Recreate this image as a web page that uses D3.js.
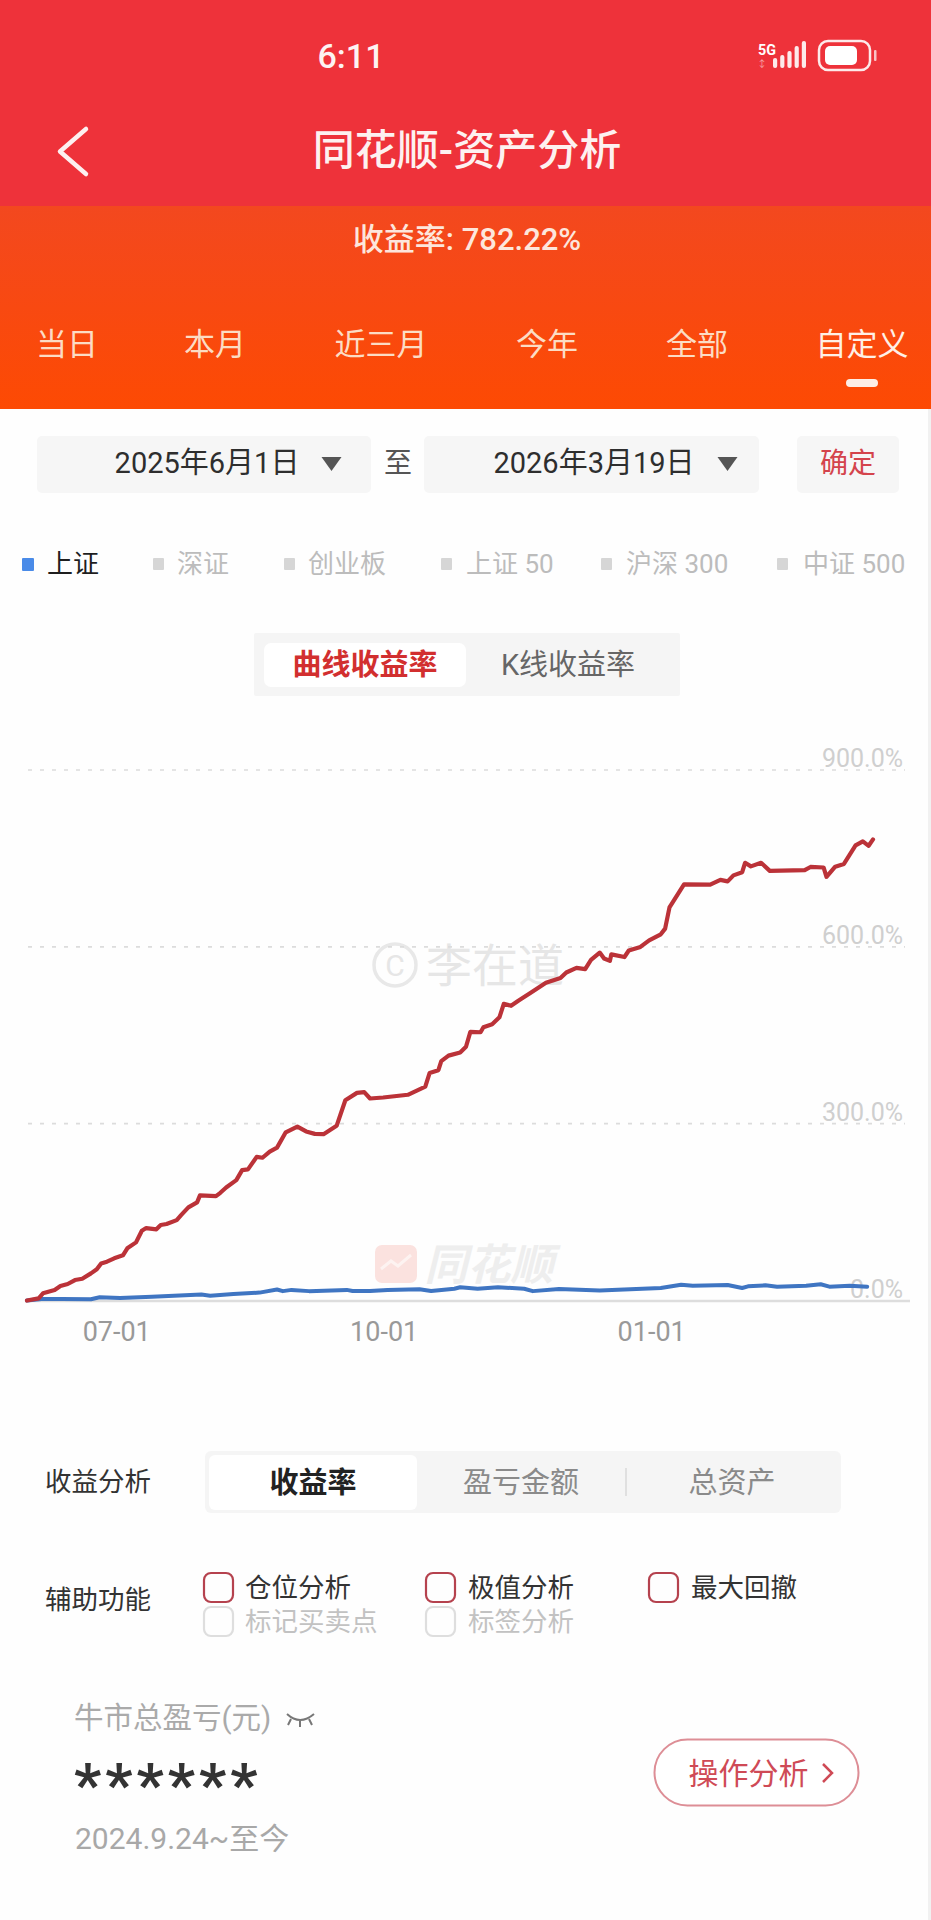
<!DOCTYPE html>
<html lang="zh"><head><meta charset="utf-8">
<script src="https://cdnjs.cloudflare.com/ajax/libs/d3/7.9.0/d3.min.js"></script>
<style>html,body{margin:0;padding:0;background:#fff}svg{display:block}
text{font-family:Roboto,"Noto Sans CJK SC",sans-serif}</style></head>
<body><script>
// ---------- data ----------
const portfolioDates = ["2025-06-01","2025-06-05","2025-06-06T12","2025-06-10T12","2025-06-12T12","2025-06-15","2025-06-17T12","2025-06-20","2025-06-23","2025-06-25","2025-06-26T12","2025-06-28T12","2025-07-01","2025-07-04","2025-07-05T12","2025-07-08T12","2025-07-10T12","2025-07-12","2025-07-15T12","2025-07-17","2025-07-19","2025-07-22T12","2025-07-24","2025-07-26T12","2025-07-29T12","2025-07-30T12","2025-08-05","2025-08-06T12","2025-08-08T12","2025-08-12","2025-08-14","2025-08-16","2025-08-19","2025-08-21","2025-08-23T12","2025-08-26","2025-08-29","2025-09-02","2025-09-05","2025-09-08","2025-09-11","2025-09-15T12","2025-09-18T12","2025-09-22T12","2025-09-25","2025-09-27","2025-10-01T12","2025-10-10","2025-10-16","2025-10-17T12","2025-10-20T12","2025-10-21T12","2025-10-24","2025-10-28","2025-10-30","2025-10-31T12","2025-11-04","2025-11-05","2025-11-08","2025-11-10T12","2025-11-12","2025-11-14T12","2025-11-17","2025-11-21","2025-11-26T12","2025-12-01T12","2025-12-03T12","2025-12-07","2025-12-10","2025-12-12","2025-12-15","2025-12-16T12","2025-12-18T12","2025-12-19","2025-12-23T12","2025-12-25","2025-12-29","2026-01-01","2026-01-05","2026-01-06T12","2026-01-08","2026-01-13","2026-01-22","2026-01-25T12","2026-01-28","2026-01-30","2026-02-02","2026-02-03","2026-02-05","2026-02-08T12","2026-02-11T12","2026-02-23T12","2026-02-25T12","2026-03-02","2026-03-03","2026-03-06","2026-03-09","2026-03-11","2026-03-13","2026-03-15T12","2026-03-17T12","2026-03-19"];
const portfolioValues = [0,3.7,12.2,17.8,24.6,28,34.7,37,46,52.9,62.8,65.8,71.5,76.6,88.5,98.6,118.3,122.9,120.7,128,129.7,136.4,144.9,158,166.4,178.3,177,182.7,191.7,204.2,221.2,222.4,243.7,242.2,252.6,259.3,285.3,295,286.8,282.7,282.2,296.3,339.8,352.2,353.4,342.7,344.4,349,362.7,386,390.7,406,415.4,420.9,430.5,455.6,455.1,463.6,468.7,480.5,503.4,500,508.5,521.2,539,547,556.5,564.4,562.2,577.7,590.2,580.2,576.1,587.3,582.7,593.8,599.9,611,621.2,630.9,667,706,705.6,713.6,711,721.2,726.6,742.6,736.5,742.6,728.9,730,735.5,734.6,718.7,736,740.7,756.3,772,778.9,771.4,782.2];
const indexDates = ["2025-06-01","2025-06-06","2025-06-13","2025-06-23","2025-06-26","2025-07-03","2025-07-14","2025-07-31","2025-08-03","2025-08-11","2025-08-20","2025-08-26","2025-08-28","2025-08-31","2025-09-06","2025-09-19","2025-09-21","2025-09-27","2025-10-03","2025-10-14","2025-10-18","2025-10-26","2025-10-28","2025-11-03","2025-11-10","2025-11-19","2025-11-22","2025-12-01","2025-12-15","2026-01-05","2026-01-12","2026-01-16","2026-01-28","2026-02-02","2026-02-04","2026-02-10","2026-02-14","2026-02-24","2026-03-01","2026-03-04","2026-03-11","2026-03-17"];
const indexValues = [0,2.5,2.5,2,5.4,4.2,6.4,10,8.1,11,13.4,18.6,15.9,18,15.9,18,16.1,16.1,17.8,19,16.1,20,22.4,20,22.4,20,15.9,19.5,17,21.2,26.8,25.1,26.3,21.2,24,25.8,23.5,25.1,27.5,23.5,25.1,23.5];
const xTickLabels = ["2025-07-01","2025-10-01","2026-01-01"];
const yTickValues = [0,300,600,900];
const periodTabs = ["当日","本月","近三月","今年","全部","自定义"];
const indexLegend = ["上证","深证","创业板","上证 50","沪深 300","中证 500"];
const metricTabs = ["收益率","盈亏金额","总资产"];

// ---------- helpers ----------
const W = 931, H = 1920;
const svg = d3.select("body").append("svg").attr("width",W).attr("height",H).attr("viewBox",`0 0 ${W} ${H}`);
const parseDay = d3.timeParse("%Y-%m-%d"), parseHour = d3.timeParse("%Y-%m-%dT%H");
const parse = s => s.includes("T") ? parseHour(s) : parseDay(s);
function txt(s,x,y,size,fill,anchor="middle",weight=400,g=svg){
  return g.append("text").text(s).attr("x",x).attr("y",y).attr("font-size",size).attr("fill",fill)
    .attr("text-anchor",anchor).attr("font-weight",weight).attr("dominant-baseline","central");
}
function rect(x,y,w,h,fill,r=0,g=svg){return g.append("rect").attr("x",x).attr("y",y).attr("width",w).attr("height",h).attr("fill",fill).attr("rx",r);}

svg.append("rect").attr("width",W).attr("height",H).attr("fill","#fefefe");
rect(928,409,3,H-409,"#f1f1f1");

// ---------- header ----------
const defs = svg.append("defs");
const grad = defs.append("linearGradient").attr("id","hdr").attr("x1",0).attr("x2",0).attr("y1",0).attr("y2",1);
grad.append("stop").attr("offset",0).attr("stop-color","#f3481f");
grad.append("stop").attr("offset",1).attr("stop-color","#fd4a03");
rect(0,0,W,206,"#ee323a");
rect(0,206,W,203,"url(#hdr)");
txt("6:11",351,56,34,"#fdf3f3","middle",500);
txt("5G",767,50,15,"#fff","middle",700).attr("textLength",18).attr("lengthAdjust","spacingAndGlyphs");
txt("↕",762,64,10,"#f6a0a4");
[10,13,17,22,27].forEach((h,i)=>rect(773+i*7.2,68-h,4.2,h,"#fdeaea",2));
rect(819,41,51,29,"none",9).attr("stroke","#fdeaea").attr("stroke-width",2.5);
rect(825,46,32,19,"#fff",5);
rect(874,50,2.5,11,"#f9c3c5",1);
svg.append("path").attr("d","M86,129 L60,151.5 L86,174").attr("fill","none").attr("stroke","#fdf0f0").attr("stroke-width",4.5).attr("stroke-linecap","round").attr("stroke-linejoin","round");
txt("同花顺-资产分析",467,150,42,"#fdf1f0","middle",500);
txt("收益率: 782.22%",467,239,31,"#fde6dc","middle",500);
const tabX = [67,215,381,547,697,862];
periodTabs.forEach((t,i)=>txt(t,tabX[i],344,31,i===5?"#fff0e6":"#fcdcc4"));
rect(846,379,32,8,"#fdeee6",4);

// ---------- date pickers ----------
const pickerX=[37,424], pickerW=[334,335], pickerText=["2025年6月1日","2026年3月19日"], pickerTextX=[207,594], arrowX=[331.5,727.5];
pickerText.forEach((t,i)=>{
  rect(pickerX[i],436,pickerW[i],57,"#f6f6f6",5);
  txt(t,pickerTextX[i],463,29,"#2e2e2e");
  const a=arrowX[i];
  svg.append("path").attr("d",`M${a-10},457 L${a+10},457 L${a},471 Z`).attr("fill","#555");
});
txt("至",398,463,28,"#555");
rect(797,436,102,57,"#f6f6f6",5);
txt("确定",848,463,28,"#d4444c");

// ---------- legend ----------
const legendSq=[22,153,284,441,601,777], legendTx=[47,177,308,466,626,803];
indexLegend.forEach((t,i)=>{
  rect(legendSq[i],558,i?11:12,i?12:13,i?"#d6d6d6":"#4a8be8",1);
  txt(t,legendTx[i],564,26,i?"#bcbcbc":"#1e1e1e","start");
});

// ---------- chart type toggle ----------
rect(254,633,426,63,"#f5f5f5",2);
rect(264,643,202,44,"#fff",7);
txt("曲线收益率",365,665,29,"#d22f2f","middle",700);
txt("K线收益率",568,665,29,"#666");

// ---------- watermarks ----------
const wm = svg.append("g");
wm.append("circle").attr("cx",395).attr("cy",965).attr("r",21).attr("fill","none").attr("stroke","#e8e8e8").attr("stroke-width",3.5);
txt("C",395,965,30,"#e6e6e6","middle",400,wm);
txt("李在道",495,966,46,"#e6e6e6","middle",400,wm);
rect(375,1245,42,38,"#fbe2df",7,wm);
wm.append("path").attr("d","M381,1269 L391,1261 L398,1266 L411,1255").attr("fill","none").attr("stroke","#fdf3f1").attr("stroke-width",3);
txt("同花顺",489,1265,43,"#eeeeee","middle",700,wm).attr("font-style","italic");

// ---------- chart ----------
const x = d3.scaleTime().domain([parse("2025-06-01"),parse("2026-03-19")]).range([27,873]);
const y = d3.scaleLinear().domain([0,900]).range([1300.5,770]);

const yAxis = d3.axisRight(y).tickValues(yTickValues).tickSize(0).tickPadding(0).tickFormat(d=>d.toFixed(1)+"%");
const gy = svg.append("g").attr("transform","translate(903,0)").call(yAxis);
gy.select(".domain").remove();
gy.selectAll("text").attr("x",0).attr("dy","-12").attr("text-anchor","end").attr("dominant-baseline","central")
  .attr("font-size",25).attr("fill","#cfcfcf").style("font-family",'Roboto,"Noto Sans CJK SC",sans-serif');
gy.selectAll("line").remove();

svg.append("g").selectAll("line").data(yTickValues.filter(d=>d>0)).join("line")
  .attr("x1",28).attr("x2",905).attr("y1",d=>y(d)).attr("y2",d=>y(d))
  .attr("stroke","#dcdcdc").attr("stroke-width",1.6).attr("stroke-dasharray","4 8");

const xAxis = d3.axisBottom(x).tickValues(xTickLabels.map(parse)).tickSize(0).tickPadding(0).tickFormat(d3.timeFormat("%m-%d"));
const gx = svg.append("g").attr("transform","translate(0,1301)").call(xAxis);
gx.select(".domain").remove();
gx.selectAll("text").attr("y",31).attr("dy",0).attr("dx",2).attr("dominant-baseline","central")
  .attr("font-size",27).attr("fill","#999").style("font-family",'Roboto,"Noto Sans CJK SC",sans-serif');
svg.append("line").attr("x1",25).attr("x2",910).attr("y1",1301).attr("y2",1301).attr("stroke","#dddddd").attr("stroke-width",2.5);

const line = d3.line().x(d=>x(d.date)).y(d=>y(d.value)).curve(d3.curveLinear);
const indexSeries = indexDates.map((d,i)=>({date:parse(d),value:indexValues[i]}));
const portfolioSeries = portfolioDates.map((d,i)=>({date:parse(d),value:portfolioValues[i]}));
svg.append("path").datum(indexSeries).attr("d",line).attr("fill","none").attr("stroke","#3f75c2").attr("stroke-width",4).attr("stroke-linejoin","round").attr("stroke-linecap","round");
svg.append("path").datum(portfolioSeries).attr("d",line).attr("fill","none").attr("stroke","#bb3238").attr("stroke-width",4.2).attr("stroke-linejoin","round").attr("stroke-linecap","round");

// ---------- lower panel ----------
txt("收益分析",45,1481,26.5,"#333","start");
rect(205,1451,636,62,"#f5f5f5",6);
rect(209,1455,208,55,"#fff",6);
const metricX=[313,521,732];
metricTabs.forEach((t,i)=>txt(t,metricX[i],1483,29,i?"#8a8a8a":"#222","middle",i?400:700));
svg.append("line").attr("x1",626).attr("x2",626).attr("y1",1468).attr("y2",1496).attr("stroke","#d8d8d8").attr("stroke-width",1.5);

txt("辅助功能",45,1599,26.5,"#333","start");
const checks=[["仓位分析",204,245,1573,1587,true],["极值分析",426,468,1573,1587,true],["最大回撤",649,691,1573,1587,true],["标记买卖点",204,245,1607,1621,false],["标签分析",426,468,1607,1621,false]];
checks.forEach(([t,bx,tx,by,ty,on])=>{
  rect(bx,by,29,29,"none",7).attr("stroke",on?"#b5424e":"#dedede").attr("stroke-width",2.2);
  txt(t,tx,ty,26.5,on?"#333":"#c2c2c2","start");
});

txt("牛市总盈亏(元)",74,1718,29.5,"#aaaaaa","start");
svg.append("path").attr("d","M287,1714 Q300,1726 314,1714 M291,1719 L288,1725 M300,1721 L300,1727 M309,1719 L312,1725")
  .attr("fill","none").attr("stroke","#777").attr("stroke-width",2);
txt("******",74,1784,60,"#333","start",700).attr("letter-spacing",4);
txt("2024.9.24~至今",75,1838,30,"#a8a8a8","start");

rect(654.5,1739.5,204,66,"#fff",33).attr("stroke","#dd8e96").attr("stroke-width",2);
txt("操作分析",748.5,1773,30,"#cf4a56");
svg.append("path").attr("d","M823,1764 L832,1773 L823,1782").attr("fill","none").attr("stroke","#cf4a56").attr("stroke-width",2.5);
</script></body></html>
